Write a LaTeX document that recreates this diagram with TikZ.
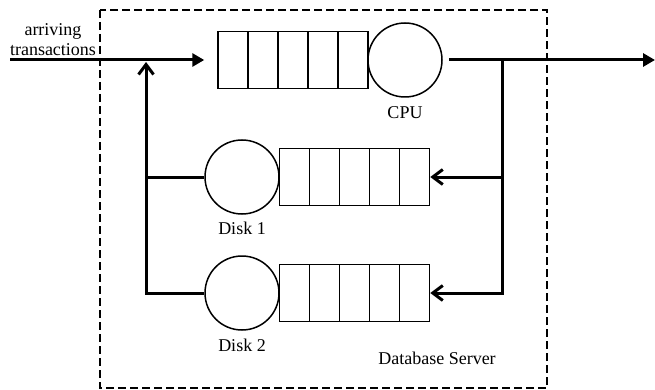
\documentclass[tikz,border=0pt]{standalone}
\usepackage{fontspec}
\setmainfont{Liberation Serif}
\usetikzlibrary{arrows.meta}
\begin{document}
\begin{tikzpicture}[x=1pt,y=-1pt,
  font=\fontsize{18}{20}\selectfont,
  queue/.style={draw, line width=1.5pt, minimum width=150pt, minimum height=57pt, inner sep=0pt,
    path picture={\foreach \i in {1,...,4}{\draw[line width=1.5pt] ([xshift=\i*30pt]path picture bounding box.south west) -- ([xshift=\i*30pt]path picture bounding box.north west);}}},
  server/.style={draw, circle, line width=1.5pt, minimum size=74pt, inner sep=0pt},
  flow/.style={line width=3pt},
  fill tip/.style={-{Triangle[length=12pt,width=13pt]}},
  barb tip/.style={-{Straight Barb[length=10pt,width=15pt,line width=3pt]}},
  frame/.style={line width=1.3pt, dash pattern=on 8pt off 4pt}]
\useasboundingbox (0,0) rectangle (655,390);
\draw[frame] (100,10) rectangle (547,388);
% nodes
\node[queue] (cpuq) at (293,60) {};
\node[server] (cpu) at (405,60) {};
\node[queue] (d1q) at (354.5,177) {};
\node[server] (d1) at (242,177) {};
\node[queue] (d2q) at (354.5,293) {};
\node[server] (d2) at (242,293) {};
\coordinate (in) at (10,60);
\coordinate (out) at (655,60);
\coordinate (jl) at (146,60);
\coordinate (jr) at (502,60);
% labels
\node[align=center] (arr) at (53,40) {arriving\\transactions};
\node (cpul) at (405,113) {CPU};
\node (d1l) at (242,228) {Disk 1};
\node (d2l) at (242,345) {Disk 2};
\node (dbl) at (437,358) {Database Server};
% connectors
\draw[flow,fill tip,shorten >=13pt] (in) -- (cpuq.west);
\draw[flow,fill tip,shorten <=6pt] (cpu.east) -- (out);
\draw[flow,barb tip] (jr) |- (d2q.east);
\draw[flow,barb tip] (jr |- d1q.east) -- (d1q.east);
\draw[flow,barb tip,shorten >=2pt] (d2.west) -| (jl);
\draw[flow] (d1.west) -- (jl |- d1.west);
\end{tikzpicture}
\end{document}
